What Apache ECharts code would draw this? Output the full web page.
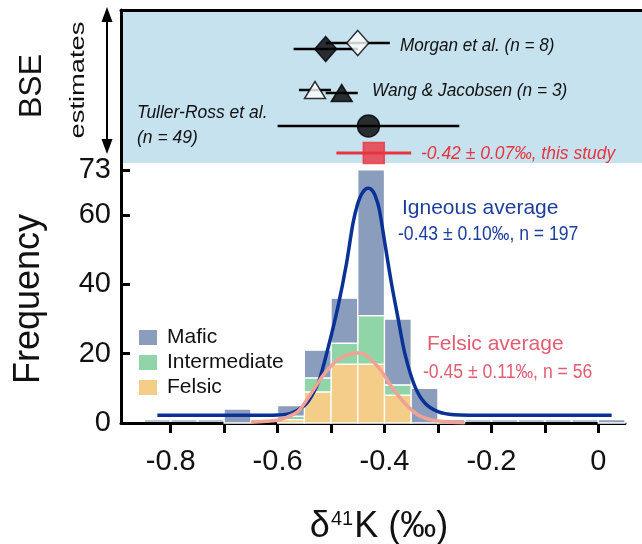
<!DOCTYPE html>
<html>
<head>
<meta charset="utf-8">
<script src="https://cdn.jsdelivr.net/npm/echarts@6/dist/echarts.min.js"></script>
<style>
  html, body { margin: 0; padding: 0; background: #fff; }
  #chart { width: 642px; height: 544px; }
</style>
</head>
<body>
<div id="chart"></div>
<script>
// histogram bins (0.05 wide), counts per rock type
const binWidth = 0.05;
const binCenters = [-0.825, -0.775, -0.725, -0.675, -0.625, -0.575, -0.525, -0.475, -0.425,
  -0.375, -0.325, -0.275, -0.225, -0.175, -0.125, -0.075, -0.025, 0.025];
const mafic = [0, 0, 0, 4, 0, 3, 8, 13, 42, 19, 10, 1, 0, 0, 0, 0, 0, 1];
const intermediate = [0, 0, 0, 0, 0, 1, 4, 6, 14, 3, 0, 0, 0, 0, 0, 0, 0, 0];
const felsic = [0, 0, 0, 0, 0, 1, 9, 17, 17, 8, 0, 0, 0, 0, 0, 0, 0, 0];

// fitted curves
const igneousX = [-0.825, -0.65, -0.6, -0.575, -0.55, -0.537, -0.522, -0.505, -0.487, -0.471,
  -0.459, -0.45, -0.443, -0.436, -0.43, -0.424, -0.418, -0.41, -0.4, -0.387, -0.374, -0.362,
  -0.343, -0.324, -0.3, -0.27, -0.2, 0.025];
const igneousY = [2.2, 2.2, 2.3, 2.8, 5.0, 7.6, 12.4, 22.0, 33.6, 46.1,
  57.6, 63.3, 66.0, 67.4, 67.7, 67.3, 65.8, 61.8, 52.5, 40.3, 29.7, 20.1,
  10.5, 5.7, 3.3, 2.4, 2.2, 2.2];
const felsicX = [-0.65, -0.6, -0.587, -0.562, -0.537, -0.512, -0.487, -0.462, -0.45, -0.437,
  -0.412, -0.4, -0.387, -0.362, -0.337, -0.312, -0.28, -0.25];
const felsicY = [0.2, 0.8, 1.4, 3.3, 8.6, 14.3, 18.2, 20.0, 20.2, 19.8,
  16.2, 13.6, 10.5, 5.7, 2.3, 0.9, 0.3, 0.1];

// BSE estimates: mean, half error bar, row (top panel, counted down from its top)
const bseMean = [-0.51, -0.45, -0.53, -0.48, -0.43, -0.42];
const bseErr = [0.06, 0.06, 0.03, 0.03, 0.17, 0.07];
const bseRow = [39, 33, 80, 83, 116, 143];

// axes
const xMin = -0.893, xMax = 0.05;
const xTicks = [-0.8, -0.7, -0.6, -0.5, -0.4, -0.3, -0.2, -0.1, 0];
const xLabels = [-0.8, -0.6, -0.4, -0.2, 0];
const yTicks = [0, 20, 40, 60, 73];

const FONT = 'Liberation Sans, Arial, sans-serif';
const RED = '#e8343f';
const BLUE_TXT = '#1d3f9c';
const PINK_TXT = '#e25d72';
const markerStyle = [
  { symbol: 'diamond', size: [22, 25], fill: '#000' },
  { symbol: 'diamond', size: [22, 25], fill: '#fff' },
  { symbol: 'triangle', size: [21, 17], fill: '#fff' },
  { symbol: 'triangle', size: [21, 17], fill: '#000' },
  { symbol: 'circle', size: 22, fill: '#000' },
  { symbol: 'rect', size: 21, fill: RED }
];

const chart = echarts.init(document.getElementById('chart'), null, { renderer: 'canvas' });

// main plot spans x 121..625 px; top panel continues to the right edge
const mainLeft = 121, mainRight = 625, W = 642;
const pxPerUnit = (mainRight - mainLeft) / (xMax - xMin);
const topXMax = xMin + (W - mainLeft) / pxPerUnit;

// stacked histogram layers: felsic at the bottom, mafic on top
const layers = [
  { name: 'Felsic', counts: felsic, color: '#f4cd89' },
  { name: 'Intermediate', counts: intermediate, color: '#90d5a7' },
  { name: 'Mafic', counts: mafic, color: '#8a9dbc' }
];
const base = binCenters.map(() => 0);
const histSeries = layers.map((layer, k) => {
  const isTop = k === layers.length - 1;
  const data = binCenters.map((x, i) => {
    const lo = base[i];
    base[i] += layer.counts[i];
    return [x, lo, base[i]];
  });
  return {
    name: layer.name, type: 'custom', itemStyle: { color: layer.color },
    data: data,
    renderItem: (params, api) => {
      const p0 = api.coord([api.value(0) - binWidth / 2, api.value(1)]);
      const p1 = api.coord([api.value(0) + binWidth / 2, api.value(2)]);
      if (api.value(2) <= api.value(1)) {
        // empty bins only leave their outline on the baseline
        if (!isTop || api.value(2) > 0) return null;
        return { type: 'line', shape: { x1: p0[0] + 1, y1: p0[1] - 2, x2: p1[0] - 1, y2: p0[1] - 2 },
          style: { stroke: api.visual('color'), lineWidth: 1.2 } };
      }
      return { type: 'rect',
        shape: { x: p0[0], y: p1[1], width: p1[0] - p0[0], height: p0[1] - p1[1] },
        style: { fill: api.visual('color'), stroke: '#fff', lineWidth: 1.3 } };
    }
  };
});

const txt = (x, y, text, font, color, sx) => ({
  type: 'text', x: x, y: y, scaleX: sx || 1, silent: true,
  style: { text: text, font: font, fill: color, align: 'left', verticalAlign: 'middle' }
});

const option = {
  animation: false,
  grid: [
    { left: mainLeft, right: W - mainRight, top: 163, bottom: 121 },
    { left: mainLeft, right: 0, top: 10, height: 153, show: true,
      backgroundColor: '#c6e2ee', borderWidth: 0 }
  ],
  xAxis: [
    {
      type: 'value', gridIndex: 0, min: xMin, max: xMax,
      splitLine: { show: false },
      axisLine: { show: true, onZero: false, lineStyle: { color: '#000', width: 3 } },
      axisTick: { show: true, length: 10, lineStyle: { color: '#000', width: 3 }, customValues: xTicks },
      axisLabel: { fontSize: 29, color: '#111', fontFamily: FONT, margin: 24, customValues: xLabels,
        formatter: v => String(v) }
    },
    {
      type: 'value', gridIndex: 1, min: xMin, max: topXMax, position: 'top',
      splitLine: { show: false }, axisTick: { show: false }, axisLabel: { show: false },
      axisLine: { show: true, onZero: false, lineStyle: { color: '#000', width: 3 } }
    }
  ],
  yAxis: [
    {
      type: 'value', gridIndex: 0, min: 0, max: 75,
      splitLine: { show: false },
      axisLine: { show: true, onZero: false, lineStyle: { color: '#000', width: 3 } },
      axisTick: { show: true, inside: true, length: 9, lineStyle: { color: '#000', width: 3 }, customValues: yTicks },
      axisLabel: { fontSize: 29, color: '#111', fontFamily: FONT, margin: 10, customValues: yTicks }
    },
    {
      type: 'value', gridIndex: 1, min: 0, max: 153, inverse: true,
      splitLine: { show: false }, axisTick: { show: false }, axisLabel: { show: false },
      axisLine: { show: true, onZero: false, lineStyle: { color: '#000', width: 3 } }
    }
  ],
  legend: {
    data: ['Mafic', 'Intermediate', 'Felsic'],
    orient: 'vertical', left: 139, top: 327, padding: 0,
    itemWidth: 18, itemHeight: 15, itemGap: 4, icon: 'rect',
    textStyle: { fontSize: 21, fontFamily: FONT, color: '#111', padding: [0, 0, 0, 5] }
  },
  series: histSeries.concat([
    { name: 'Igneous fit', type: 'line', smooth: 0.3, showSymbol: false,
      lineStyle: { color: '#0a3296', width: 3.5 },
      data: igneousX.map((x, i) => [x, igneousY[i]]) },
    { name: 'Felsic fit', type: 'line', smooth: 0.3, showSymbol: false,
      lineStyle: { color: '#f2a294', width: 3.5 },
      data: felsicX.map((x, i) => [x, felsicY[i]]) },
    {
      name: 'BSE error', type: 'custom', xAxisIndex: 1, yAxisIndex: 1,
      data: bseMean.map((m, i) => [m - bseErr[i], m + bseErr[i], bseRow[i], i]),
      renderItem: (params, api) => {
        const a = api.coord([api.value(0), api.value(2)]);
        const b = api.coord([api.value(1), api.value(2)]);
        const last = api.value(3) === bseMean.length - 1;
        return { type: 'line', shape: { x1: a[0], y1: a[1], x2: b[0], y2: b[1] },
          style: { stroke: last ? RED : '#000', lineWidth: last ? 3 : 2.5 } };
      }
    },
    {
      name: 'BSE', type: 'scatter', xAxisIndex: 1, yAxisIndex: 1, clip: false,
      data: bseMean.map((m, i) => ({
        value: [m, bseRow[i]],
        symbol: markerStyle[i].symbol,
        symbolSize: markerStyle[i].size,
        itemStyle: { color: markerStyle[i].fill,
          borderColor: markerStyle[i].fill === RED ? RED : '#000', borderWidth: 1.5 }
      }))
    }
  ]),
  graphic: [
    // left-side labels
    { type: 'text', x: 32, y: 86, rotation: Math.PI / 2, silent: true,
      style: { text: 'BSE', font: '32px ' + FONT, fill: '#111', align: 'center', verticalAlign: 'middle' } },
    { type: 'text', x: 78, y: 80, rotation: Math.PI / 2, scaleX: 1.3, silent: true,
      style: { text: 'estimates', font: '21px ' + FONT, fill: '#111', align: 'center', verticalAlign: 'middle' } },
    { type: 'text', x: 29, y: 299, rotation: Math.PI / 2, silent: true,
      style: { text: 'Frequency', font: '36px ' + FONT, fill: '#111', align: 'center', verticalAlign: 'middle' } },
    // double-headed arrow
    { type: 'line', silent: true, shape: { x1: 107, y1: 20, x2: 107, y2: 141 },
      style: { stroke: '#000', lineWidth: 2 } },
    { type: 'polygon', silent: true, shape: { points: [[107, 7], [101.5, 22], [112.5, 22]] },
      style: { fill: '#000' } },
    { type: 'polygon', silent: true, shape: { points: [[107, 154], [101.5, 139], [112.5, 139]] },
      style: { fill: '#000' } },
    // x axis name
    { type: 'text', x: 379, y: 527, silent: true,
      style: { text: '{a|δ}{s|41}{a|K (‰)}', align: 'center', verticalAlign: 'middle',
        rich: { a: { fontSize: 36, fontFamily: FONT, fill: '#111' },
          s: { fontSize: 20, fontFamily: FONT, fill: '#111', verticalAlign: 'top', padding: [0, 1, 14, 1] } } } },
    // BSE annotations
    txt(400, 46, 'Morgan et al. (n = 8)', 'italic 19px ' + FONT, '#111', 0.9),
    txt(372, 91, 'Wang & Jacobsen (n = 3)', 'italic 19px ' + FONT, '#111', 0.91),
    txt(137, 113, 'Tuller-Ross et al.', 'italic 19px ' + FONT, '#111', 0.92),
    txt(137, 138, '(n = 49)', 'italic 19px ' + FONT, '#111', 0.92),
    txt(421, 154, '-0.42 ± 0.07‰, this study', 'italic 19px ' + FONT, RED, 0.92),
    // fit annotations
    txt(402, 208, 'Igneous average', '21px ' + FONT, BLUE_TXT),
    txt(398, 234, '-0.43 ± 0.10‰, n = 197', '20px ' + FONT, BLUE_TXT, 0.88),
    txt(427, 344, 'Felsic average', '21px ' + FONT, PINK_TXT),
    txt(423, 372, '-0.45 ± 0.11‰, n = 56', '20px ' + FONT, PINK_TXT, 0.88)
  ]
};

chart.setOption(option);
</script>
</body>
</html>
